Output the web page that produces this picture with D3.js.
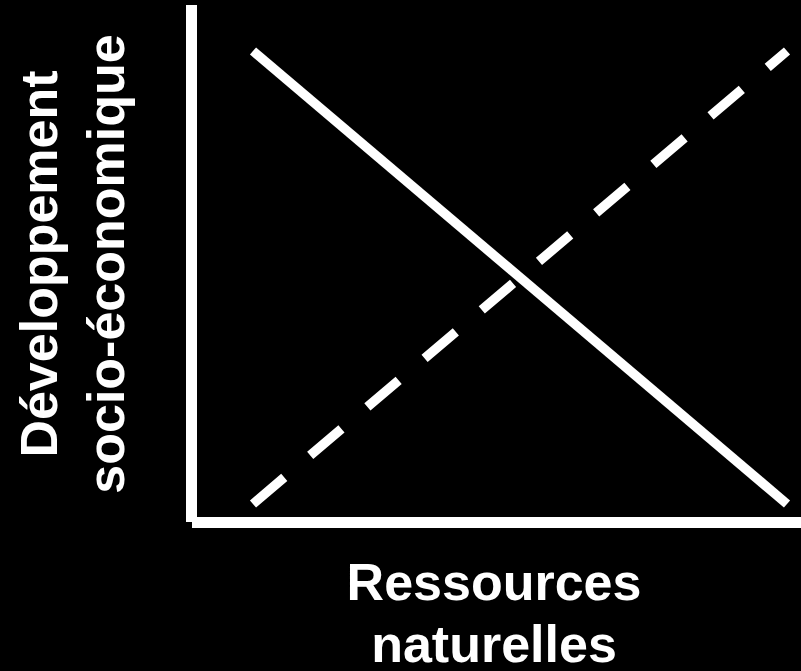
<!DOCTYPE html>
<html>
<head>
<meta charset="utf-8">
<script src="https://cdn.jsdelivr.net/npm/d3@7"></script>
<style>
  html, body { margin: 0; padding: 0; background: #000; }
  svg { display: block; }
</style>
</head>
<body>
<svg id="chart" width="801" height="671"></svg>
<script>
// Data
const resources = [0, 1];            // x values (natural resources)
const devSolid = [1, 0];             // solid line: socio-economic development
const devDashed = [0, 1];            // dashed line
const xLabelLines = ["Ressources", "naturelles"];
const yLabelLines = ["Développement", "socio-économique"];

const W = 801, H = 671;
const svg = d3.select("#chart");
svg.append("rect").attr("width", W).attr("height", H).attr("fill", "#000");

const x = d3.scaleLinear().domain([0, 1]).range([253, 787]);
const y = d3.scaleLinear().domain([0, 1]).range([504, 51]);

// Axes (L shape)
svg.append("rect").attr("x", 186).attr("y", 5).attr("width", 11).attr("height", 517).attr("fill", "#fff");
svg.append("rect").attr("x", 192).attr("y", 517).attr("width", W - 192).attr("height", 11).attr("fill", "#fff");

const line = d3.line().x(d => x(d[0])).y(d => y(d[1]));

svg.append("path")
  .datum(d3.zip(resources, devSolid))
  .attr("d", line)
  .attr("fill", "none")
  .attr("stroke", "#fff")
  .attr("stroke-width", 9.5)
  .attr("stroke-linecap", "butt");

svg.append("path")
  .datum(d3.zip(resources, devDashed))
  .attr("d", line)
  .attr("fill", "none")
  .attr("stroke", "#fff")
  .attr("stroke-width", 9.5)
  .attr("stroke-dasharray", "41,34")
  .attr("stroke-linecap", "butt");

const font = "'Liberation Sans', Arial, Helvetica, sans-serif";

// X label
const xl = svg.append("text")
  .attr("text-anchor", "middle")
  .attr("font-family", font)
  .attr("font-weight", "bold")
  .attr("font-size", 52)
  .attr("fill", "#fff");
xLabelLines.forEach((t, i) => {
  xl.append("tspan").attr("x", 494).attr("y", 600 + i * 62).text(t);
});

// Y label (rotated)
const yl = svg.append("text")
  .attr("transform", "rotate(-90)")
  .attr("text-anchor", "middle")
  .attr("font-family", font)
  .attr("font-weight", "bold")
  .attr("font-size", 52)
  .attr("fill", "#fff");
const yBaselines = [57, 124];
yLabelLines.forEach((t, i) => {
  yl.append("tspan").attr("x", -264).attr("y", yBaselines[i]).text(t);
});
</script>
</body>
</html>
